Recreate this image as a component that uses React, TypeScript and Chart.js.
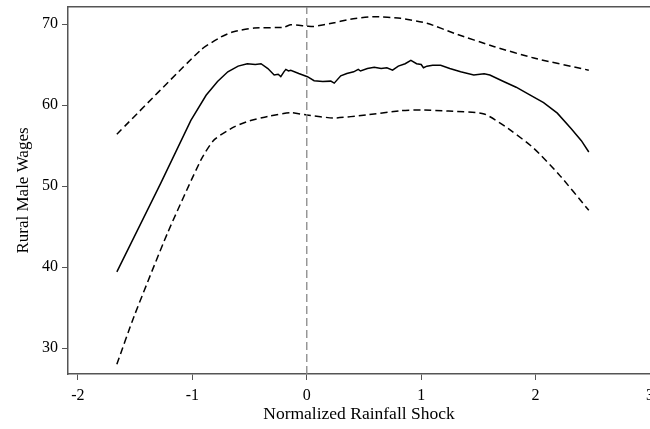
import React, { useEffect, useRef } from "react";
import { Chart, registerables } from "chart.js";

Chart.register(...registerables);

// Kernel regression estimate (solid) and confidence band (dashed)
const fitX = [-1.66, -1.275, -1.013, -0.88, -0.78, -0.69, -0.6, -0.52, -0.45, -0.4, -0.34, -0.285, -0.25, -0.227, -0.2, -0.183, -0.16, -0.14, -0.07, 0.006, 0.064, 0.14, 0.21, 0.24, 0.297, 0.35, 0.41, 0.45, 0.47, 0.53, 0.59, 0.65, 0.7, 0.75, 0.8, 0.86, 0.91, 0.96, 1.0, 1.02, 1.05, 1.1, 1.17, 1.25, 1.345, 1.46, 1.55, 1.6, 1.72, 1.83, 1.93, 2.07, 2.19, 2.31, 2.4, 2.465];
const fitY = [39.4, 50.4, 58.1, 61.2, 62.9, 64.1, 64.8, 65.1, 65.0, 65.1, 64.5, 63.7, 63.8, 63.5, 64.1, 64.4, 64.2, 64.3, 63.9, 63.5, 63.0, 62.9, 62.95, 62.7, 63.6, 63.9, 64.1, 64.4, 64.2, 64.5, 64.65, 64.5, 64.6, 64.3, 64.8, 65.1, 65.5, 65.1, 65.0, 64.6, 64.8, 64.9, 64.9, 64.5, 64.1, 63.7, 63.85, 63.7, 62.9, 62.2, 61.4, 60.3, 59.0, 57.1, 55.6, 54.2];

const upperX = [-1.66, -0.926, -0.75, -0.64, -0.46, -0.2, -0.14, 0.0, 0.06, 0.24, 0.38, 0.59, 0.82, 1.05, 1.29, 1.64, 1.985, 2.465];
const upperY = [56.4, 66.8, 68.4, 69.05, 69.5, 69.6, 69.9, 69.75, 69.7, 70.15, 70.6, 70.9, 70.7, 70.1, 68.85, 67.2, 65.8, 64.3];

const lowerX = [-1.66, -1.51, -1.217, -0.926, -0.81, -0.635, -0.5, -0.34, -0.14, 0.0, 0.24, 0.53, 0.82, 1.0, 1.24, 1.55, 1.78, 1.985, 2.2, 2.465];
const lowerY = [28.0, 33.9, 44.2, 53.2, 55.7, 57.3, 58.05, 58.6, 59.05, 58.77, 58.4, 58.8, 59.3, 59.4, 59.25, 58.9, 56.9, 54.65, 51.5, 47.0];

const X_MIN = -2.087;
const X_MAX = 3.0;
const Y_MIN = 26.8;
const Y_MAX = 72.1;
const REF_X = 0;

const FONT = "'Liberation Serif', 'Times New Roman', serif";
const AXIS = "#555555";

const pts = (xs: number[], ys: number[]) => xs.map((x, i) => ({ x, y: ys[i] }));

export default function App() {
  const ref = useRef<HTMLCanvasElement | null>(null);
  useEffect(() => {
    document.body.style.margin = "0";
    const canvas = ref.current!;
    const chart = new Chart(canvas, {
      type: "line",
      data: {
        datasets: [
          {
            data: [{ x: REF_X, y: Y_MIN }, { x: REF_X, y: Y_MAX }],
            borderColor: "#888888",
            borderWidth: 1.3,
            borderDash: [8, 4],
            pointRadius: 0,
          },
          {
            data: pts(upperX, upperY),
            borderColor: "#000",
            borderWidth: 1.5,
            borderDash: [7, 4],
            pointRadius: 0,
            tension: 0.2,
          },
          {
            data: pts(lowerX, lowerY),
            borderColor: "#000",
            borderWidth: 1.5,
            borderDash: [7, 4],
            pointRadius: 0,
            tension: 0.2,
          },
          {
            data: pts(fitX, fitY),
            borderColor: "#000",
            borderWidth: 1.5,
            pointRadius: 0,
            tension: 0,
          },
        ],
      },
      options: {
        animation: false,
        responsive: false,
        devicePixelRatio: 1,
        layout: { padding: { top: 7, left: 0, right: 0, bottom: 0 } },
        plugins: { legend: { display: false }, tooltip: { enabled: false } },
        scales: {
          x: {
            type: "linear",
            min: X_MIN,
            max: X_MAX,
            grid: { display: true, drawOnChartArea: false, drawTicks: true, tickLength: 6, color: AXIS },
            border: { color: AXIS, width: 1.5 },
            ticks: {
              stepSize: 1,
              includeBounds: false,
              maxRotation: 0,
              padding: 6,
              color: "#000",
              font: { family: FONT, size: 16 },
            },
            title: {
              display: true,
              text: "Normalized Rainfall Shock",
              color: "#000",
              font: { family: FONT, size: 17.5 },
              padding: { top: 2, bottom: 4 },
            },
            afterFit: (s: any) => {
              s.height = 55;
              s.paddingLeft = 0;
              s.paddingRight = 0;
            },
          },
          x2: {
            type: "linear",
            position: "top",
            min: X_MIN,
            max: X_MAX,
            grid: { display: false },
            border: { color: AXIS, width: 1.5 },
            ticks: { display: false },
            afterFit: (s: any) => {
              s.height = 0;
              s.paddingLeft = 0;
              s.paddingRight = 0;
            },
          },
          y: {
            type: "linear",
            min: Y_MIN,
            max: Y_MAX,
            grid: { display: true, drawOnChartArea: false, drawTicks: true, tickLength: 6, color: AXIS },
            border: { color: AXIS, width: 1.5 },
            ticks: {
              stepSize: 10,
              includeBounds: false,
              padding: 4,
              color: "#000",
              font: { family: FONT, size: 16 },
            },
            title: {
              display: true,
              text: "Rural Male Wages",
              color: "#000",
              font: { family: FONT, size: 17 },
              padding: { top: 13, bottom: 4 },
            },
            afterFit: (s: any) => {
              s.width = 68;
              s.paddingTop = 0;
              s.paddingBottom = 0;
            },
          },
        },
      },
    } as any);
    return () => chart.destroy();
  }, []);
  return (
    <div style={{ width: 650, height: 429, overflow: "hidden" }}>
      <canvas ref={ref} width={650} height={429} style={{ display: "block", width: 650, height: 429 }} />
    </div>
  );
}
